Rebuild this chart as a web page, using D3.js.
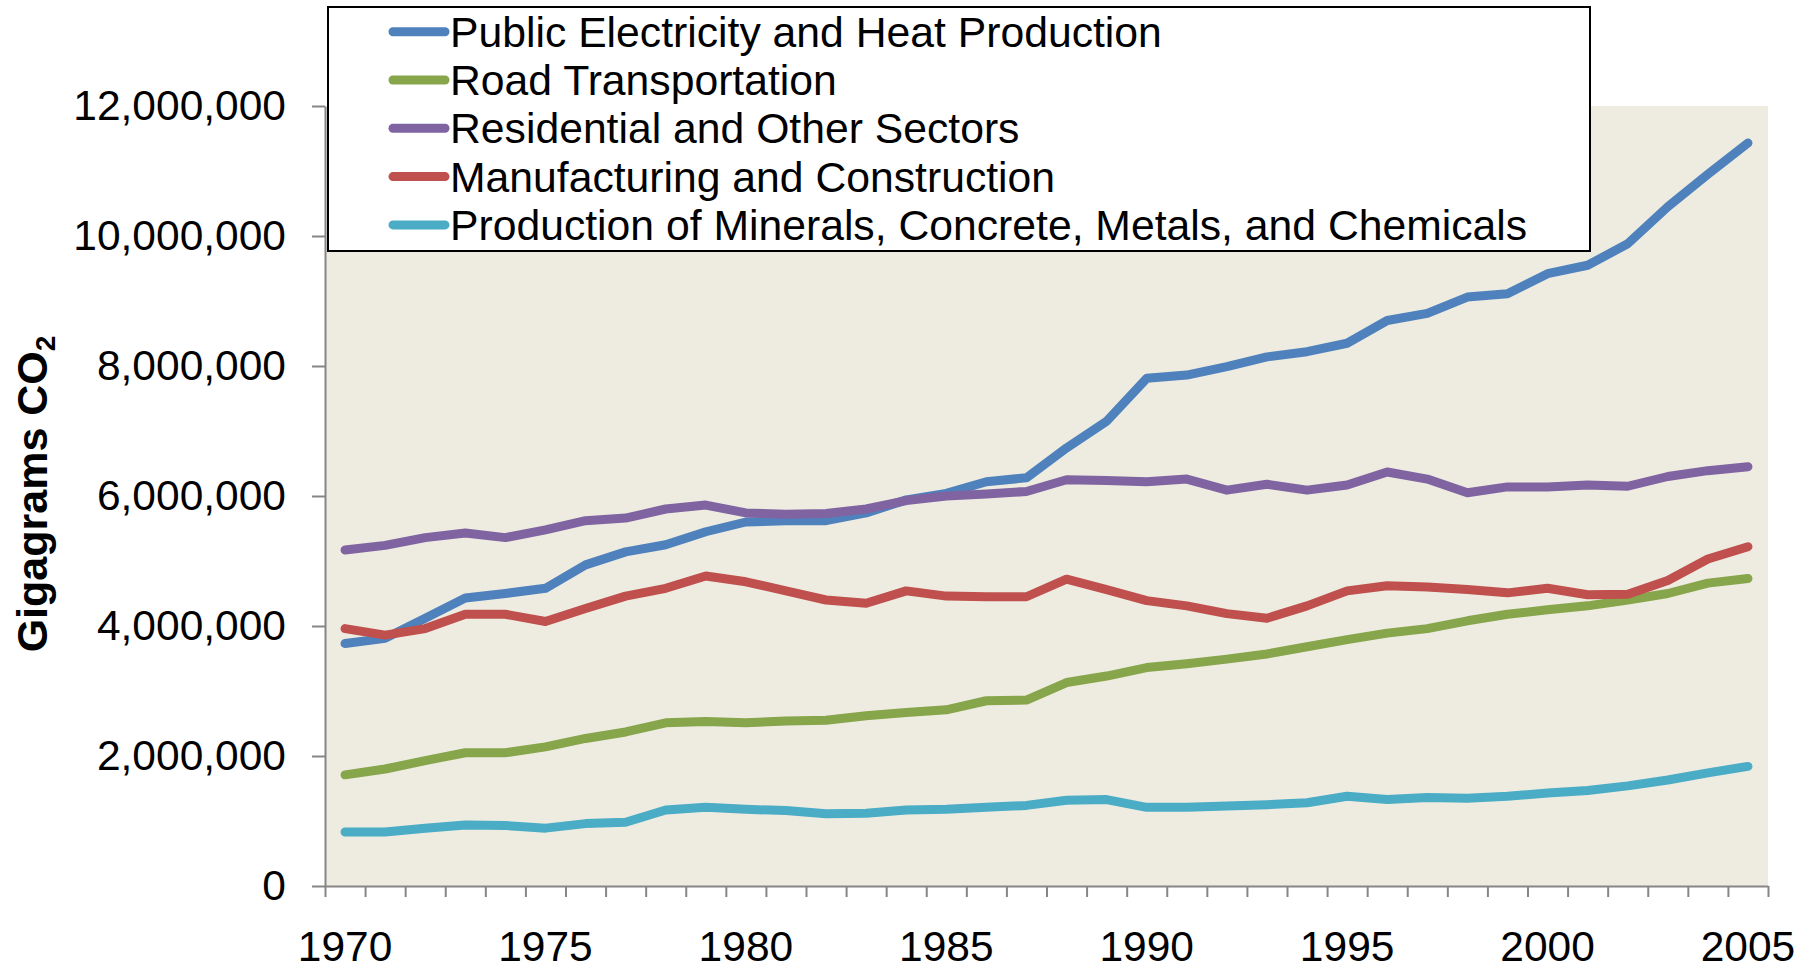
<!DOCTYPE html>
<html><head><meta charset="utf-8">
<script src="https://cdn.jsdelivr.net/npm/d3@7"></script>
<style>
body{margin:0;background:#fff;}
svg{display:block;font-family:"Liberation Sans",Arial,sans-serif;}
</style>
</head><body><svg id="c" width="1814" height="970"></svg>
<script>
const years = [1970,1971,1972,1973,1974,1975,1976,1977,1978,1979,
  1980,1981,1982,1983,1984,1985,1986,1987,1988,1989,
  1990,1991,1992,1993,1994,1995,1996,1997,1998,1999,
  2000,2001,2002,2003,2004,2005];
const yearLabels = [1970,1975,1980,1985,1990,1995,2000,2005];
const yTicks = [0,2000000,4000000,6000000,8000000,10000000,12000000];

const seriesNames = ["Public Electricity and Heat Production","Road Transportation",
  "Residential and Other Sectors","Manufacturing and Construction",
  "Production of Minerals, Concrete, Metals, and Chemicals"];
const seriesColors = ["#4F81BD","#87A54A","#8064A2","#C0504D","#4BACC6"];

const publicElectricity = [3730000,3810000,4120000,4430000,4500000,4580000,4940000,5140000,5250000,5450000,
  5600000,5620000,5620000,5740000,5940000,6040000,6220000,6280000,6740000,7150000,
  7810000,7860000,7990000,8140000,8220000,8350000,8700000,8810000,9060000,9110000,
  9420000,9550000,9880000,10450000,10950000,11430000];
const roadTransportation = [1710000,1800000,1930000,2050000,2050000,2140000,2270000,2370000,2510000,2530000,
  2510000,2540000,2550000,2620000,2670000,2710000,2850000,2860000,3130000,3230000,
  3360000,3420000,3490000,3570000,3680000,3790000,3890000,3960000,4080000,4180000,
  4250000,4310000,4400000,4500000,4660000,4730000];
const residential = [5170000,5240000,5360000,5430000,5360000,5480000,5620000,5660000,5800000,5860000,
  5740000,5720000,5730000,5800000,5930000,6000000,6030000,6070000,6250000,6240000,
  6220000,6260000,6090000,6180000,6090000,6170000,6370000,6260000,6050000,6140000,
  6140000,6170000,6150000,6300000,6390000,6450000];
const manufacturing = [3960000,3860000,3960000,4180000,4180000,4070000,4270000,4460000,4580000,4770000,
  4680000,4540000,4400000,4350000,4540000,4460000,4450000,4450000,4720000,4560000,
  4390000,4310000,4190000,4120000,4310000,4540000,4620000,4600000,4560000,4510000,
  4580000,4480000,4490000,4700000,5030000,5220000];
const minerals = [830000,830000,890000,940000,930000,890000,960000,980000,1170000,1210000,
  1180000,1160000,1110000,1120000,1170000,1180000,1210000,1240000,1320000,1330000,
  1210000,1210000,1230000,1250000,1280000,1380000,1330000,1360000,1350000,1380000,
  1430000,1470000,1540000,1630000,1740000,1840000];

const seriesValues = [publicElectricity, roadTransportation, residential, manufacturing, minerals];

const svg = d3.select("#c");
const pLeft = 325, pRight = 1768, pTop = 106, pBottom = 886;
const FS = 42.5;

const x = d3.scaleBand().domain(years).range([pLeft, pRight]).padding(0);
const xc = d => x(d) + x.bandwidth() / 2;
const y = d3.scaleLinear().domain([0, 12000000]).range([pBottom, pTop]);

// plot background
svg.append("rect").attr("x", pLeft).attr("y", pTop)
  .attr("width", pRight - pLeft).attr("height", pBottom - pTop).attr("fill", "#EEECE1");

// x axis: tick marks at category boundaries
const xb = d3.scaleLinear().domain([0, years.length]).range([pLeft, pRight]);
const xAxisTicks = svg.append("g").attr("transform", `translate(0,${pBottom})`)
  .call(d3.axisBottom(xb).tickValues(d3.range(0, years.length + 1)).tickSize(11).tickSizeOuter(0).tickFormat(""));
xAxisTicks.select(".domain").attr("stroke", "#868686").attr("stroke-width", 2);
xAxisTicks.selectAll(".tick line").attr("stroke", "#868686").attr("stroke-width", 2);

// x labels
const xLab = svg.append("g").attr("transform", `translate(0,${pBottom})`)
  .call(d3.axisBottom(x).tickValues(yearLabels).tickSize(0).tickPadding(45));
xLab.select(".domain").remove();
xLab.selectAll("text").attr("font-size", FS).attr("font-family", "Liberation Sans, Arial, sans-serif").attr("fill", "#000");

// y axis
const yAx = svg.append("g").attr("transform", `translate(${pLeft},0)`)
  .call(d3.axisLeft(y).tickValues(yTicks).tickSize(13).tickSizeOuter(0).tickPadding(26).tickFormat(d3.format(",")));
yAx.select(".domain").attr("stroke", "#868686").attr("stroke-width", 2);
yAx.selectAll(".tick line").attr("stroke", "#868686").attr("stroke-width", 2);
yAx.selectAll("text").attr("font-size", FS).attr("font-family", "Liberation Sans, Arial, sans-serif").attr("fill", "#000");

// y title
const yt = svg.append("text").attr("transform", "translate(47,494) rotate(-90)")
  .attr("text-anchor", "middle").attr("font-size", 43).attr("font-weight", "bold").attr("fill", "#000");
yt.append("tspan").text("Gigagrams CO");
yt.append("tspan").attr("font-size", 28).attr("dy", 8).text("2");

// lines
const line = d3.line().x((d, i) => xc(years[i])).y(d => y(d));
seriesValues.forEach((vals, k) => {
  svg.append("path").datum(vals).attr("d", line)
    .attr("fill", "none").attr("stroke", seriesColors[k]).attr("stroke-width", 9)
    .attr("stroke-linecap", "round").attr("stroke-linejoin", "round");
});

// legend
const lg = svg.append("g");
lg.append("rect").attr("x", 328).attr("y", 7).attr("width", 1262).attr("height", 244)
  .attr("fill", "#fff").attr("stroke", "#000").attr("stroke-width", 2);
seriesNames.forEach((name, k) => {
  const cy = 31.7 + k * 48.3;
  lg.append("line").attr("x1", 393).attr("x2", 445).attr("y1", cy).attr("y2", cy)
    .attr("stroke", seriesColors[k]).attr("stroke-width", 9).attr("stroke-linecap", "round");
  lg.append("text").attr("x", 450).attr("y", cy).attr("dy", "0.35em")
    .attr("font-size", 42.7).attr("fill", "#000").text(name);
});
</script>
</body></html>
